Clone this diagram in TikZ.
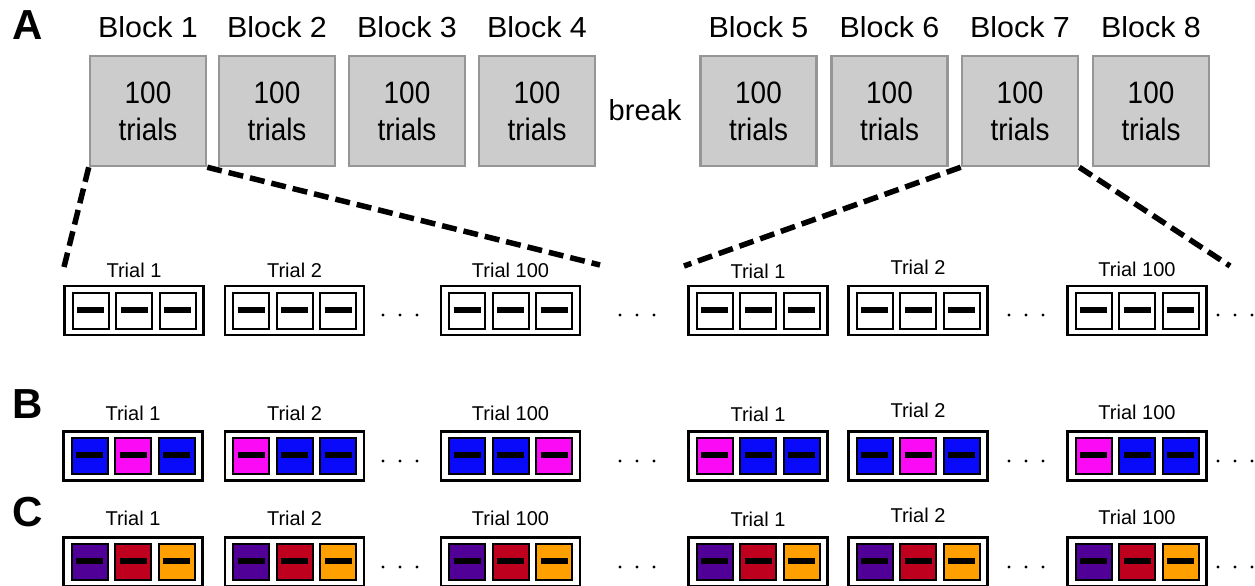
\documentclass[tikz,border=0pt]{standalone}
\usepackage{fontspec}
\setmainfont{Liberation Sans}
\definecolor{blockfill}{RGB}{204,204,204}
\definecolor{blockline}{RGB}{150,150,150}
\definecolor{cblue}{RGB}{10,10,250}
\definecolor{cmag}{RGB}{250,10,245}
\definecolor{cpurple}{RGB}{80,0,150}
\definecolor{cred}{RGB}{190,0,30}
\definecolor{corange}{RGB}{255,160,0}
\tikzset{
  blockbox/.style={draw=blockline, fill=blockfill, line width=2.5pt, minimum width=116pt, minimum height=110pt, inner sep=0pt, align=center, font=\fontsize{31}{37}\selectfont},
  blocklabel/.style={font=\fontsize{29}{30}\selectfont, inner sep=0pt},
  panellabel/.style={font=\fontsize{42}{42}\selectfont\bfseries, inner sep=0pt},
  triallabel/.style={font=\fontsize{20}{21}\selectfont, inner sep=0pt},
  outerbox/.style={draw=black, line width=2.3pt, fill=white, minimum width=139pt, minimum height=49pt, inner sep=0pt},
  innerbox/.style={draw=black, line width=2pt, minimum width=36pt, minimum height=36pt, inner sep=0pt},
  bar/.style={line width=6pt, black},
  zoomline/.style={line width=5.5pt, dash pattern=on 15pt off 7pt, black},
  dotmark/.style={circle, fill=black, inner sep=0pt, minimum size=3.4pt}
}
\newcommand\trialgrp[6]{% name, x, y, c1, c2, c3
  \node[outerbox] (#1) at (#2,#3) {};
  \node[innerbox, fill=#4] (#1-1) at ([xshift=-43.5pt]#1.center) {};
  \node[innerbox, fill=#5] (#1-2) at (#1.center) {};
  \node[innerbox, fill=#6] (#1-3) at ([xshift=43.5pt]#1.center) {};
  \foreach \k in {1,2,3}{\draw[bar] ([xshift=-13.5pt,yshift=1pt]#1-\k.center) -- ([xshift=13.5pt,yshift=1pt]#1-\k.center);}
}
\newcommand\dotrow[3]{% name, x, y
  \node[dotmark] (#1-a) at (#2-17,#3) {};
  \node[dotmark] (#1-b) at (#2,#3) {};
  \node[dotmark] (#1-c) at (#2+17,#3) {};
}
\begin{document}
\begin{tikzpicture}[x=1pt,y=-1pt]
\useasboundingbox (0,0) rectangle (1255,586);
% panel labels
\node[panellabel] (pA) at (28,25) {A};
\node[panellabel] (pB) at (28,404) {B};
\node[panellabel] (pC) at (28,512) {C};
% blocks
\foreach \n/\x in {1/148,2/277,3/407,4/537,5/758.5,6/889.5,7/1020,8/1151}{
  \node[blockbox] (b\n) at (\x,111) {\scalebox{0.9}[1]{100}\\\scalebox{0.9}[1]{trials}};
  \node[blocklabel] (bl\n) at (\x,27) {\scalebox{1.05}[1]{Block \n}};
}
\node[font=\fontsize{29}{30}\selectfont, inner sep=0pt] (brk) at (645,110) {break};
% zoom lines
\coordinate (z1) at (64,267);
\coordinate (z2) at (600,265);
\coordinate (z3) at (684,266);
\coordinate (z4) at (1230,266);
\draw[zoomline] (b1.south west) -- (z1);
\draw[zoomline] (b1.south east) -- (z2);
\draw[zoomline] (b7.south west) -- (z3);
\draw[zoomline] (b7.south east) -- (z4);
% Row A
\trialgrp{a1}{134}{310.5}{white}{white}{white}
\trialgrp{a2}{294.5}{310.5}{white}{white}{white}
\trialgrp{a3}{510.5}{310.5}{white}{white}{white}
\trialgrp{a4}{758}{310.5}{white}{white}{white}
\trialgrp{a5}{918}{310.5}{white}{white}{white}
\trialgrp{a6}{1137}{310.5}{white}{white}{white}
% Row B
\trialgrp{bb1}{133}{456}{cblue}{cmag}{cblue}
\trialgrp{bb2}{294.5}{456}{cmag}{cblue}{cblue}
\trialgrp{bb3}{510.5}{456}{cblue}{cblue}{cmag}
\trialgrp{bb4}{758}{456}{cmag}{cblue}{cblue}
\trialgrp{bb5}{918}{456}{cblue}{cmag}{cblue}
\trialgrp{bb6}{1137}{456}{cmag}{cblue}{cblue}
% Row C
\trialgrp{c1}{133}{562}{cpurple}{cred}{corange}
\trialgrp{c2}{294.5}{562}{cpurple}{cred}{corange}
\trialgrp{c3}{510.5}{562}{cpurple}{cred}{corange}
\trialgrp{c4}{758}{562}{cpurple}{cred}{corange}
\trialgrp{c5}{918}{562}{cpurple}{cred}{corange}
\trialgrp{c6}{1137}{562}{cpurple}{cred}{corange}
% trial labels
\foreach \r/\y in {a/270,bb/413,c/518}{
  \node[triallabel] (\r1l) at (\r1.center |- 0,\y) {Trial 1};
  \node[triallabel] (\r2l) at (\r2.center |- 0,\y) {Trial 2};
  \node[triallabel] (\r3l) at (\r3.center |- 0,\y) {Trial 100};
  \node[triallabel] (\r4l) at (\r4.center |- 0,\y+1) {Trial 1};
  \node[triallabel] (\r5l) at (\r5.center |- 0,\y-3) {Trial 2};
  \node[triallabel] (\r6l) at (\r6.center |- 0,\y-1) {Trial 100};
}
% dots
\foreach \r/\y in {a/315,bb/461,c/567}{
  \dotrow{\r d1}{400}{\y}
  \dotrow{\r d2}{637}{\y}
  \dotrow{\r d3}{1026}{\y}
  \dotrow{\r d4}{1235}{\y}
}
\end{tikzpicture}
\end{document}
